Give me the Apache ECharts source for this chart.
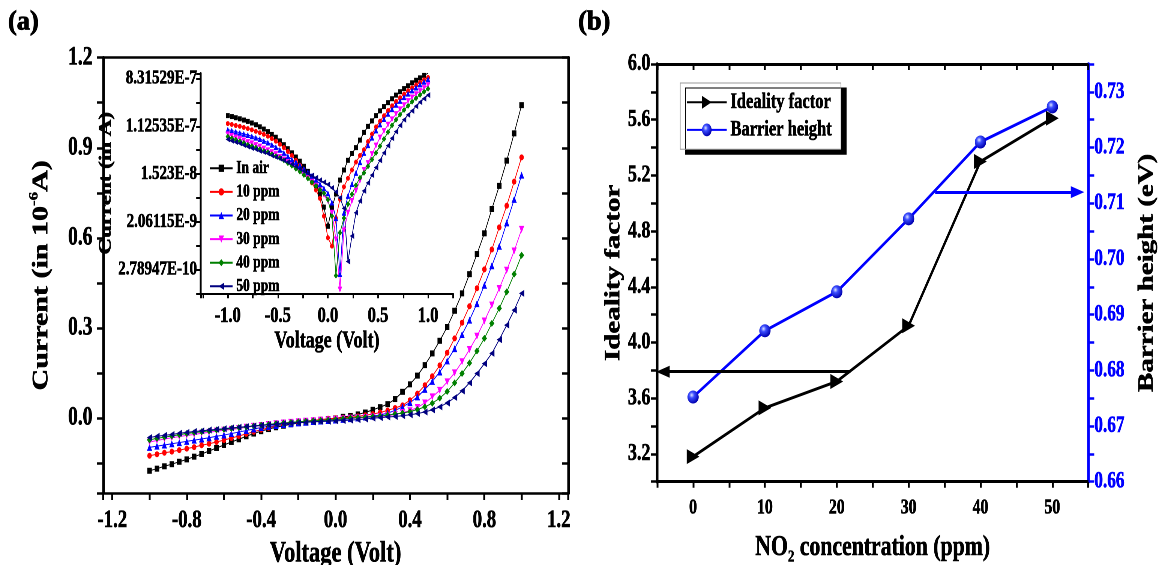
<!DOCTYPE html>
<html><head><meta charset="utf-8">
<script src="https://cdn.jsdelivr.net/npm/echarts@6/dist/echarts.min.js"></script>
<style>
html,body{margin:0;padding:0;background:#fff;overflow:hidden;width:1162px;height:565px;}
#wrap{width:1162px;height:565px;overflow:hidden;position:relative;background:#fff;}
#chart{width:1549px;height:565px;position:absolute;left:0;top:0;transform:scaleX(0.750161);transform-origin:0 0;}
</style></head>
<body><div id="wrap"><div id="chart"></div></div>
<script>
// ---------- data (panel a: current in 10^-6 A) ----------
const voltage = [-1.00,-0.96,-0.92,-0.88,-0.84,-0.80,-0.76,-0.72,-0.68,-0.64,-0.60,-0.56,-0.52,-0.48,-0.44,-0.40,-0.36,-0.32,-0.28,-0.24,-0.20,-0.16,-0.12,-0.08,-0.04,0.00,
  0.04,0.08,0.12,0.16,0.20,0.24,0.28,0.32,0.36,0.40,0.44,0.48,0.52,0.56,0.60,0.64,0.68,0.72,0.76,0.80,0.84,0.88,0.92,0.96,1.00];
const inAir = [-0.176,-0.169,-0.161,-0.154,-0.146,-0.138,-0.129,-0.120,-0.110,-0.100,-0.090,-0.080,-0.071,-0.061,-0.052,-0.044,-0.037,-0.031,-0.026,-0.021,-0.017,-0.013,-0.0095,-0.0065,-0.0038,-0.0017,
  0.0037,0.0066,0.0118,0.018,0.027,0.036,0.046,0.063,0.087,0.112,0.141,0.176,0.215,0.257,0.303,0.357,0.415,0.479,0.546,0.615,0.696,0.773,0.857,0.948,1.042];
const ppm10 = [-0.126,-0.121,-0.116,-0.112,-0.107,-0.102,-0.097,-0.091,-0.086,-0.080,-0.074,-0.067,-0.060,-0.053,-0.046,-0.039,-0.033,-0.027,-0.022,-0.018,-0.014,-0.0105,-0.0078,-0.0055,-0.0026,-0.00105,
  0.00074,0.0024,0.0053,0.0089,0.0127,0.018,0.025,0.033,0.042,0.059,0.081,0.109,0.139,0.175,0.217,0.265,0.317,0.372,0.432,0.495,0.561,0.635,0.707,0.787,0.868];
const ppm20 = [-0.098,-0.094,-0.090,-0.086,-0.082,-0.078,-0.074,-0.070,-0.066,-0.061,-0.057,-0.052,-0.047,-0.042,-0.037,-0.032,-0.028,-0.025,-0.022,-0.019,-0.0165,-0.0142,-0.0120,-0.0100,-0.0084,-0.0068,
  -0.0046,-0.0024,0.00023,0.0030,0.0061,0.0100,0.016,0.025,0.037,0.051,0.070,0.095,0.122,0.153,0.190,0.231,0.278,0.326,0.381,0.442,0.507,0.572,0.650,0.728,0.809];
const ppm30 = [-0.080,-0.075,-0.070,-0.066,-0.062,-0.058,-0.055,-0.051,-0.048,-0.044,-0.041,-0.038,-0.035,-0.031,-0.028,-0.025,-0.022,-0.0195,-0.017,-0.0148,-0.0128,-0.011,-0.0093,-0.0078,-0.0063,-0.0049,
  -0.0030,-0.00098,0.00012,0.00143,0.0030,0.0049,0.0075,0.0115,0.018,0.024,0.035,0.050,0.070,0.092,0.120,0.150,0.187,0.228,0.272,0.323,0.376,0.431,0.492,0.556,0.628];
const ppm40 = [-0.073,-0.068,-0.064,-0.060,-0.056,-0.052,-0.049,-0.046,-0.043,-0.040,-0.038,-0.035,-0.032,-0.030,-0.027,-0.024,-0.0215,-0.019,-0.0168,-0.0146,-0.0126,-0.0108,-0.0092,-0.0079,-0.0068,-0.0052,
  -0.0026,-0.000215,0.0013,0.0024,0.0043,0.0065,0.0095,0.013,0.016,0.021,0.028,0.037,0.049,0.066,0.088,0.117,0.148,0.183,0.223,0.265,0.315,0.365,0.420,0.479,0.542];
const ppm50 = [-0.065,-0.061,-0.058,-0.055,-0.051,-0.048,-0.045,-0.043,-0.040,-0.038,-0.036,-0.033,-0.031,-0.029,-0.027,-0.025,-0.023,-0.021,-0.019,-0.0172,-0.0157,-0.0143,-0.0130,-0.0118,-0.0108,-0.0098,
  -0.0085,-0.0072,-0.0056,-0.0036,-0.00039,0.00113,0.0030,0.0049,0.0075,0.0105,0.0145,0.020,0.027,0.037,0.050,0.068,0.090,0.117,0.148,0.181,0.215,0.261,0.309,0.359,0.415];
const seriesNames = ['In air','10 ppm','20 ppm','30 ppm','40 ppm','50 ppm'];

// inset tick labels (natural-log axis of |I| in A)
const insetTickValues = [-22,-20,-18,-16,-14];
const insetTickLabels = ['2.78947E-10','2.06115E-9','1.523E-8','1.12535E-7','8.31529E-7'];

// ---------- data (panel b) ----------
const concentration = [0,10,20,30,40,50];
const idealityFactor = [3.18,3.53,3.72,4.12,5.30,5.61];
const barrierHeight = [0.6752,0.6871,0.6941,0.7072,0.7210,0.7273];
// annotation arrows: [fromX, toX, y]
const idealityArrow = [21.9,-4.2,3.79];
const barrierArrow = [33.7,53.5,0.712];

// ---------- styles ----------
const F = 'Liberation Serif';
const styles = [
  {color:'#000000', symbol:'rect', rotate:0, size:6},
  {color:'#ff0000', symbol:'circle', rotate:0, size:6},
  {color:'#0000ff', symbol:'triangle', rotate:0, size:7},
  {color:'#ff00ff', symbol:'triangle', rotate:180, size:7},
  {color:'#008000', symbol:'diamond', rotate:0, size:7},
  {color:'#000080', symbol:'triangle', rotate:90, size:7}
];
const currents = [inAir, ppm10, ppm20, ppm30, ppm40, ppm50];
const txt = (size, extra) => {
  const o = Object.assign({fontFamily:F, fontWeight:'bold', color:'#000', fontSize:size, textBorderWidth:0.6}, extra || {});
  o.textBorderColor = o.color;
  return o;
};
const isMult = (v, step) => Math.abs(v/step - Math.round(v/step)) < 1e-6;

const mainSeries = currents.map((arr, k) => ({
  type:'line', name:seriesNames[k], xAxisIndex:0, yAxisIndex:0,
  data: voltage.map((v,i) => [v, arr[i]]),
  symbol:styles[k].symbol, symbolRotate:styles[k].rotate, symbolSize:styles[k].size,
  lineStyle:{color:styles[k].color, width:1}, itemStyle:{color:styles[k].color},
  silent:true
}));
const insetSeries = currents.map((arr, k) => ({
  type:'line', name:seriesNames[k], xAxisIndex:2, yAxisIndex:2,
  data: voltage.map((v,i) => [v, Math.log(Math.abs(arr[i]) * 1e-6)]),
  symbol:styles[k].symbol, symbolRotate:styles[k].rotate, symbolSize:styles[k].size - 1,
  lineStyle:{color:styles[k].color, width:1}, itemStyle:{color:styles[k].color},
  silent:true
}));

const sphere = {type:'radial', x:0.38, y:0.35, r:0.65, colorStops:[
  {offset:0, color:'#dfe4ff'}, {offset:0.35, color:'#3b4dff'}, {offset:1, color:'#0000b0'}]};

const panelLabel = (t, x) => ({type:'text', x:x, y:9, scaleX:1.3, silent:true,
  style:{text:t, fontFamily:F, fontWeight:'bold', fontSize:27, fill:'#000', stroke:'#000', lineWidth:0.8, verticalAlign:'top', align:'left'}});

const option = {
  animation:false,
  backgroundColor:'#fff',
  textStyle:{fontFamily:F},
  graphic:[panelLabel('(a)', 10.7), panelLabel('(b)', 770.7)],
  grid:[
    {left:137.3, top:57.7, width:620, height:435.3, outerBoundsMode:'none'},
    {left:267.6, top:73.3, width:336.4, height:220, outerBoundsMode:'none'},
    {left:876, top:64, width:574.7, height:417.7, outerBoundsMode:'none'}
  ],
  legend:[
    {data:seriesNames, orient:'vertical', left:274, top:154, itemWidth:30, itemHeight:9, itemGap:5,
     selectedMode:false, textStyle:txt(18, {lineHeight:17}), padding:5},
    {data:['Ideality factor','Barrier height'], orient:'vertical', left:906.7, top:83, itemWidth:53, itemHeight:16, itemGap:5,
     selectedMode:false, textStyle:txt(22, {lineHeight:22}), padding:[8,12,8,8],
     backgroundColor:'#fff', borderColor:'#999', borderWidth:1,
     shadowColor:'#000', shadowBlur:0, shadowOffsetX:7, shadowOffsetY:5}
  ],
  xAxis:[
    {gridIndex:0, type:'value', min:-1.25, max:1.25, minInterval:0.2, maxInterval:0.2,
     axisLine:{onZero:false, lineStyle:{color:'#000', width:2.5}},
     axisTick:{length:7, lineStyle:{color:'#000', width:2.5}},
     axisLabel:Object.assign(txt(25), {margin:15, formatter:v => isMult(v,0.4) ? v.toFixed(1) : ''}),
     splitLine:{show:false},
     name:'Voltage (Volt)', nameLocation:'middle', nameGap:40, nameTextStyle:txt(30)},
    {gridIndex:0, type:'value', position:'top', min:-1.25, max:1.25,
     axisLine:{onZero:false, lineStyle:{color:'#000', width:2.5}},
     axisTick:{show:false}, axisLabel:{show:false}, splitLine:{show:false}},
    {gridIndex:1, type:'value', min:-1.27, max:1.25, minInterval:0.25, maxInterval:0.25,
     axisLine:{onZero:false, lineStyle:{color:'#000', width:2}},
     axisTick:{length:5, lineStyle:{color:'#000', width:2}},
     axisLabel:Object.assign(txt(22), {margin:12, formatter:v => isMult(v,0.5) ? v.toFixed(1) : ''}),
     splitLine:{show:false},
     name:'Voltage (Volt)', nameLocation:'middle', nameGap:36, nameTextStyle:txt(24)},
    {gridIndex:2, type:'value', min:-5, max:55, interval:5,
     axisLine:{onZero:false, lineStyle:{color:'#000', width:3}},
     axisTick:{length:6, lineStyle:{color:'#000', width:2.5}},
     axisLabel:Object.assign(txt(21), {margin:16, formatter:v => (isMult(v,10) && v >= 0 && v <= 50) ? String(Math.round(v)) : ''}),
     splitLine:{show:false},
     name:'{t|NO}{b|2}{t| concentration (ppm)}', nameLocation:'middle', nameGap:48,
     nameTextStyle:txt(29, {rich:{
       t:{fontFamily:F, fontWeight:'bold', fontSize:29, lineHeight:36, color:'#000', textBorderColor:'#000', textBorderWidth:0.6},
       b:{fontFamily:F, fontWeight:'bold', fontSize:17, lineHeight:14, verticalAlign:'bottom', color:'#000', textBorderColor:'#000', textBorderWidth:0.5}}})},
    {gridIndex:2, type:'value', position:'top', min:-5, max:55, interval:5,
     axisLine:{onZero:false, lineStyle:{color:'#000', width:3}},
     axisTick:{inside:true, length:6, lineStyle:{color:'#000', width:2.5}},
     axisLabel:{show:false}, splitLine:{show:false}}
  ],
  yAxis:[
    {gridIndex:0, type:'value', min:-0.25, max:1.2, minInterval:0.15, maxInterval:0.15,
     axisLine:{onZero:false, lineStyle:{color:'#000', width:3.5}},
     axisTick:{length:8, lineStyle:{color:'#000', width:2.5}},
     axisLabel:Object.assign(txt(26), {margin:14, formatter:v => isMult(v,0.3) ? v.toFixed(1) : ''}),
     splitLine:{show:false},
     name:'{t|Current (in 10}{s|-6}{t|A)}', nameLocation:'middle', nameGap:64,
     nameTextStyle:txt(30, {rich:{
       t:{fontFamily:F, fontWeight:'bold', fontSize:30, lineHeight:36, color:'#000', textBorderColor:'#000', textBorderWidth:0.6},
       s:{fontFamily:F, fontWeight:'bold', fontSize:17, lineHeight:16, verticalAlign:'top', color:'#000', textBorderColor:'#000', textBorderWidth:0.5}}})},
    {gridIndex:0, type:'value', position:'right', min:-0.25, max:1.2, minInterval:0.15, maxInterval:0.15,
     axisLine:{onZero:false, lineStyle:{color:'#000', width:3.5}},
     axisTick:{inside:true, length:8, lineStyle:{color:'#000', width:2.5}},
     axisLabel:{show:false}, splitLine:{show:false}},
    {gridIndex:1, type:'value', min:-23, max:-13.78, interval:1,
     axisLine:{onZero:false, lineStyle:{color:'#000', width:2.5}},
     axisTick:{length:6, lineStyle:{color:'#000', width:2}},
     axisLabel:Object.assign(txt(20), {margin:5, formatter:v => {
       const i = insetTickValues.findIndex(t => Math.abs(t - v) < 1e-6); return i >= 0 ? insetTickLabels[i] : ''; }}),
     splitLine:{show:false},
     name:'Current (in A)', nameLocation:'middle', nameGap:97, nameTextStyle:txt(23)},
    {gridIndex:2, type:'value', min:3, max:6, interval:0.2,
     axisLine:{onZero:false, lineStyle:{color:'#000', width:3.5}},
     axisTick:{length:8, lineStyle:{color:'#000', width:2.5}},
     axisLabel:Object.assign(txt(24), {margin:9, formatter:v => (Math.round(v*10) % 4 === 0) ? v.toFixed(1) : ''}),
     splitLine:{show:false},
     name:'Ideality factor', nameLocation:'middle', nameGap:40, nameTextStyle:txt(29)},
    {gridIndex:2, type:'value', position:'right', min:0.66, max:0.735, interval:0.005,
     axisLine:{onZero:false, lineStyle:{color:'#0000ff', width:3.5}},
     axisTick:{length:8, lineStyle:{color:'#0000ff', width:2.5}},
     axisLabel:Object.assign(txt(23, {color:'#0000ff'}), {margin:8, formatter:v => (Math.round(v*1000) % 10 === 0) ? v.toFixed(2) : ''}),
     splitLine:{show:false},
     name:'Barrier height (eV)', nameLocation:'middle', nameGap:64, nameTextStyle:txt(29)}
  ],
  series:[].concat(mainSeries, insetSeries, [
    {type:'line', name:'Ideality factor', xAxisIndex:3, yAxisIndex:3,
     data:concentration.map((c,i) => [c, idealityFactor[i]]),
     symbol:'triangle', symbolRotate:-90, symbolSize:[15,17],
     lineStyle:{color:'#000', width:3}, itemStyle:{color:'#000'}, z:4, silent:true,
     markLine:{silent:true, animation:false, label:{show:false}, lineStyle:{color:'#000', width:3, type:'solid'},
       emphasis:{disabled:true},
       data:[[{coord:[idealityArrow[0], idealityArrow[2]], symbol:'none'},
              {coord:[idealityArrow[1], idealityArrow[2]], symbol:'triangle', symbolSize:[12,18]}]]}},
    {type:'line', name:'Barrier height', xAxisIndex:3, yAxisIndex:4,
     data:concentration.map((c,i) => [c, barrierHeight[i]]),
     symbol:'circle', symbolSize:[15,13],
     lineStyle:{color:'#0000ff', width:3}, itemStyle:{color:sphere}, z:3, silent:true,
     markLine:{silent:true, animation:false, label:{show:false}, lineStyle:{color:'#0000ff', width:3, type:'solid'},
       emphasis:{disabled:true},
       data:[[{coord:[barrierArrow[0], barrierArrow[2]], symbol:'none'},
              {coord:[barrierArrow[1], barrierArrow[2]], symbol:'triangle', symbolSize:[12,18]}]]}}
  ])
};

const chart = echarts.init(document.getElementById('chart'), null, {renderer:'canvas', devicePixelRatio:2});
chart.setOption(option);
</script>
</body></html>
